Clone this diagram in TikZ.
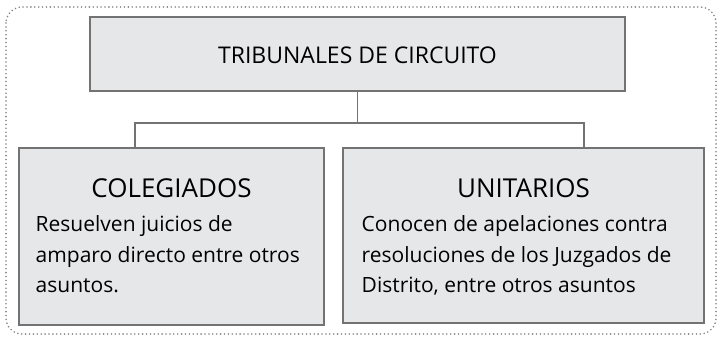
\documentclass[tikz,border=0pt]{standalone}
\usepackage{fontspec}
\setmainfont{Open Sans}
\usepackage{xcolor}
\usetikzlibrary{positioning}
\definecolor{boxfill}{HTML}{E6E7E8}
\definecolor{boxline}{HTML}{737373}
\definecolor{dotline}{HTML}{858585}
\tikzset{%
	court box/.style={
		draw=boxline,
		fill=boxfill,
		line width=1.2pt,
		inner sep=0pt
	},
	court title/.style={
		text=black,
		font=\fontsize{23}{27}\selectfont,
		anchor=base,
		inner sep=0pt
	},
	court text/.style={
		text=black,
		font=\fontsize{21}{30.5}\selectfont,
		align=left,
		anchor=base west,
		inner sep=0pt
	},
	link/.style={
		draw=boxline,
		line width=1.3pt
	},
}
\begin{document}
\begin{tikzpicture}[x=1pt,y=-1pt]
			\useasboundingbox (0,0) rectangle (720,340);
			
			% Dotted frame
			\draw[dotline, line width=1.8pt, line cap=round, dash pattern=on 0pt off 3.9pt, rounded corners=16pt] (6,7) rectangle (716,334);
			
			% Boxes
			\node[court box, minimum width=535pt, minimum height=74pt] (circuito) at (357.5,54) {};
			\node[court box, minimum width=305pt, minimum height=177pt] (colegiados) at (171.5,236.5) {};
			\node[court box, minimum width=361pt, minimum height=175pt] (unitarios) at (523.5,235.5) {};
			
			% Titles
			\node[court title] (circuitoT) at (357.5,63.3) {TRIBUNALES DE CIRCUITO};
			\node[court title, font=\fontsize{26}{30}\selectfont] (colegiadosT) at (171.5,197.5) {COLEGIADOS};
			\node[court title, font=\fontsize{26}{30}\selectfont] (unitariosT) at (523.5,197.5) {UNITARIOS};
			
			% Texts (base anchor sits on the last line)
			\node[court text] (colegiadosX) at (35.5,292.5) {Resuelven juicios de\\amparo directo entre otros\\asuntos.};
			\node[court text] (unitariosX) at (361.5,292.5) {Conocen de apelaciones contra\\resoluciones de los Juzgados de\\Distrito, entre otros asuntos};
			
			% Connectors
			\coordinate (split) at (circuito.south |- 0,123);
			\coordinate (leftjoin) at (135,148);
			\coordinate (rightjoin) at (584,148);
			\draw[link] (circuito.south) -- (split);
			\draw[link] (leftjoin) |- (split) -| (rightjoin);
		\end{tikzpicture}
\end{document}
